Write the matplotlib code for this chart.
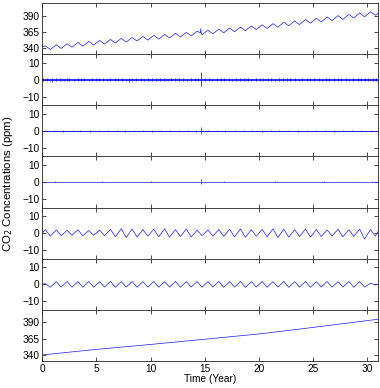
import numpy as np
import matplotlib

matplotlib.use("Agg")
import matplotlib.pyplot as plt

# --- data (EMD of a 31-year CO2 record) ---
t_end = 31.0
peak_t = np.arange(31) + 0.3      # seasonal maxima
trough_t = np.arange(31) + 0.75   # seasonal minima

obs_peak = [343.7, 345.4, 347.0, 348.9, 350.4, 352.1, 353.5, 355.2, 356.5, 358.2,
            359.7, 361.1, 362.9, 364.3, 366.1, 367.7, 369.1, 370.9, 372.3, 374.1,
            375.9, 377.6, 379.9, 381.7, 383.9, 385.8, 387.7, 389.9, 391.6, 393.9, 395.7]
obs_trough = [338.2, 339.8, 341.6, 343.3, 344.9, 346.5, 348.2, 349.5, 351.2, 352.5,
              354.1, 355.8, 357.3, 358.9, 360.6, 362.2, 363.7, 365.4, 366.9, 368.6,
              370.3, 372.2, 374.4, 376.2, 378.4, 380.3, 382.3, 384.2, 386.4, 388.2, 390.4]
obs_ends = [342.0, 393.5]
obs_spike_t = [14.60, 14.64, 14.68]
obs_spike_v = [363.5, 370.0, 362.5]

# IMF1 / IMF2 / IMF3: high-frequency bursts around zero
imf1_t = [0.1, 0.4, 0.7, 0.9, 1.3, 1.6, 2.0, 2.3, 2.5, 2.9, 3.3, 3.6, 3.9, 4.3, 4.6,
          5.0, 5.2, 5.6, 6.0, 6.3, 6.7, 7.0, 7.4, 7.7, 8.0, 8.3, 8.7, 9.1, 9.4, 9.8,
          10.1, 10.5, 10.9, 11.2, 11.6, 11.9, 12.3, 12.6, 13.0, 13.4, 13.7, 14.1,
          14.4, 14.65, 15.0, 15.4, 15.7, 16.1, 16.5, 16.8, 17.2, 17.5, 17.9, 18.3,
          18.6, 19.0, 19.3, 19.7, 20.1, 20.4, 20.8, 21.1, 21.5, 21.9, 22.2, 22.6,
          22.9, 23.3, 23.7, 24.0, 24.4, 24.7, 25.1, 25.5, 25.8, 26.2, 26.5, 26.9,
          27.3, 27.6, 28.0, 28.3, 28.7, 29.1, 29.4, 29.8, 30.1, 30.5, 30.8]
imf1_amp = [0.9, 1.1, 0.7, 1.3, 0.8, 1.0, 0.6, 1.2, 0.9, 0.7, 1.0, 0.8, 1.1, 0.7, 0.9,
            1.2, 0.8, 1.0, 0.7, 0.9, 1.1, 0.8, 1.0, 0.7, 1.3, 0.9, 0.8, 1.0, 0.7, 1.1,
            0.9, 0.8, 1.0, 1.2, 0.7, 0.9, 1.1, 0.8, 1.0, 0.7, 0.9, 1.0,
            0.8, 4.5, 0.9, 1.1, 0.7, 1.0, 0.8, 1.2, 0.9, 0.7, 1.0, 0.8,
            1.1, 0.9, 0.7, 1.0, 1.2, 0.8, 0.9, 1.1, 0.7, 1.0, 0.8, 1.2,
            0.9, 1.0, 0.7, 1.1, 0.9, 0.8, 1.2, 1.0, 0.7, 0.9, 1.1, 0.8,
            1.0, 1.2, 0.9, 0.7, 1.1, 0.9, 1.0, 0.8, 1.2, 0.9, 1.0]
imf2_t = [0.3, 1.1, 1.9, 2.8, 3.5, 4.4, 5.2, 6.1, 6.9, 7.6, 8.5, 9.3, 10.1, 11.0,
          11.8, 12.6, 13.5, 14.2, 14.65, 15.3, 16.1, 16.9, 17.8, 18.6, 19.4, 20.3,
          21.1, 21.9, 22.8, 23.6, 24.4, 25.3, 26.1, 26.9, 27.8, 28.6, 29.4, 30.3]
imf2_amp = [0.4, 0.3, 0.5, 0.3, 0.4, 0.5, 0.3, 0.4, 0.3, 0.5, 0.4, 0.3, 0.5, 0.3,
            0.4, 0.3, 0.4, 0.5, 2.0, 0.4, 0.3, 0.5, 0.3, 0.4, 0.3, 0.5, 0.3, 0.4,
            0.3, 0.5, 0.4, 0.3, 0.4, 0.5, 0.3, 0.4, 0.3, 0.4]
imf3_t = [1.2, 3.4, 5.5, 7.9, 10.0, 12.3, 14.65, 16.8, 19.2, 21.5, 23.7, 26.0, 28.4, 30.4]
imf3_amp = [0.3, 0.2, 0.3, 0.2, 0.3, 0.2, 1.5, 0.3, 0.2, 0.3, 0.2, 0.3, 0.2, 0.3]

# IMF4: irregular annual sawtooth
imf4_peak = [2.0, 1.8, 1.6, 1.9, 1.5, 1.7, 2.2, 2.6, 2.4, 2.0, 2.3, 2.5, 2.1, 2.4, 1.6,
             1.8, 2.0, 2.2, 2.4, 2.0, 2.2, 2.5, 2.3, 2.0, 2.4, 2.1, 1.8, 2.2, 2.0, 2.3, 2.1]
imf4_trough = [-1.8, -1.5, -1.2, -1.6, -1.3, -1.5, -2.2, -2.6, -2.3, -1.8, -2.2, -2.4,
               -2.0, -2.3, -1.5, -1.7, -1.9, -2.2, -2.5, -1.9, -2.2, -2.6, -2.4, -2.0,
               -2.4, -2.0, -1.7, -2.2, -1.9, -3.5, -1.8]
imf4_ends = [0.0, 1.0]

# IMF5: smooth annual oscillation
imf5_peak = [0.3, 1.5, 1.6, 1.5, 1.6, 1.5, 1.6, 1.5, 1.6, 1.5, 1.6, 1.5, 1.6, 1.5, 1.6,
             1.5, 1.6, 1.5, 1.6, 1.5, 1.6, 1.5, 1.6, 1.5, 1.6, 1.5, 1.6, 1.5, 1.6, 1.5, 0.6]
imf5_trough = [-1.8, -1.7, -1.8, -1.7, -1.8, -1.7, -1.8, -1.7, -1.8, -1.7, -1.8, -1.7,
               -1.8, -1.7, -1.8, -1.7, -1.8, -1.7, -1.8, -1.7, -1.8, -1.7, -1.8, -1.7,
               -1.8, -1.7, -1.8, -1.7, -1.8, -1.7, -0.5]
imf5_ends = [0.0, 0.0]

# residual trend
res_t = [0, 5, 10, 15, 20, 25, 31]
res_v = [340.0, 348.5, 356.0, 364.0, 372.0, 382.0, 394.5]

xticks = [0, 5, 10, 15, 20, 25, 30]
ppm_ticks = [340, 365, 390]
imf_ticks = [-10, 0, 10]


def seasonal(peaks, troughs, ends, spike_t=None, spike_v=None):
    t = np.concatenate([[0.0], peak_t, trough_t, [t_end]])
    v = np.concatenate([[ends[0]], peaks, troughs, [ends[1]]])
    if spike_t is not None:
        t = np.concatenate([t, spike_t])
        v = np.concatenate([v, spike_v])
    order = np.argsort(t)
    return t[order], v[order]


plt.rcParams["font.family"] = ["Liberation Sans", "DejaVu Sans"]
plt.rcParams["font.size"] = 7.3

fig, axes = plt.subplots(7, 1, figsize=(3.8, 3.88), dpi=100, sharex=True)
fig.subplots_adjust(left=0.111, right=0.995, top=0.992, bottom=0.07, hspace=0)

blue = (0.1, 0.1, 1.0)
lw = 0.5

t, v = seasonal(obs_peak, obs_trough, obs_ends, obs_spike_t, obs_spike_v)
axes[0].plot(t, v, color=blue, lw=lw)

for ax, bt, ba, base_lw, tick_lw in [
    (axes[1], imf1_t, imf1_amp, 1.3, 0.6),
    (axes[2], imf2_t, imf2_amp, 0.7, 0.5),
    (axes[3], imf3_t, imf3_amp, 0.5, 0.5),
]:
    ax.plot([0, t_end], [0, 0], color=blue, lw=base_lw)
    ba = np.array(ba)
    ax.vlines(bt, -ba * 0.8, ba, color=blue, lw=tick_lw)

t, v = seasonal(imf4_peak, imf4_trough, imf4_ends)
axes[4].plot(t, v, color=blue, lw=lw)

t, v = seasonal(imf5_peak, imf5_trough, imf5_ends)
axes[5].plot(t, v, color=blue, lw=lw)

axes[6].plot(res_t, res_v, color=blue, lw=lw)

for i, ax in enumerate(axes):
    ax.set_xlim(0, t_end)
    if i in (0, 6):
        ax.set_ylim(331, 409)
        ax.set_yticks(ppm_ticks)
    else:
        ax.set_ylim(-15, 15)
        ax.set_yticks(imf_ticks)
    ax.set_xticks(xticks)
    ax.tick_params(direction="in", top=True, right=True, length=3, width=0.5,
                   pad=2)
    for s in ax.spines.values():
        s.set_linewidth(0.6)
        s.set_color("#222222")

axes[6].set_xlabel("Time (Year)", labelpad=0)
fig.text(0.022, 0.526, "CO$_2$ Concentrations (ppm)", rotation=90,
         va="center", ha="center", fontsize=8.2)

fig.savefig("out.png", dpi=100)
